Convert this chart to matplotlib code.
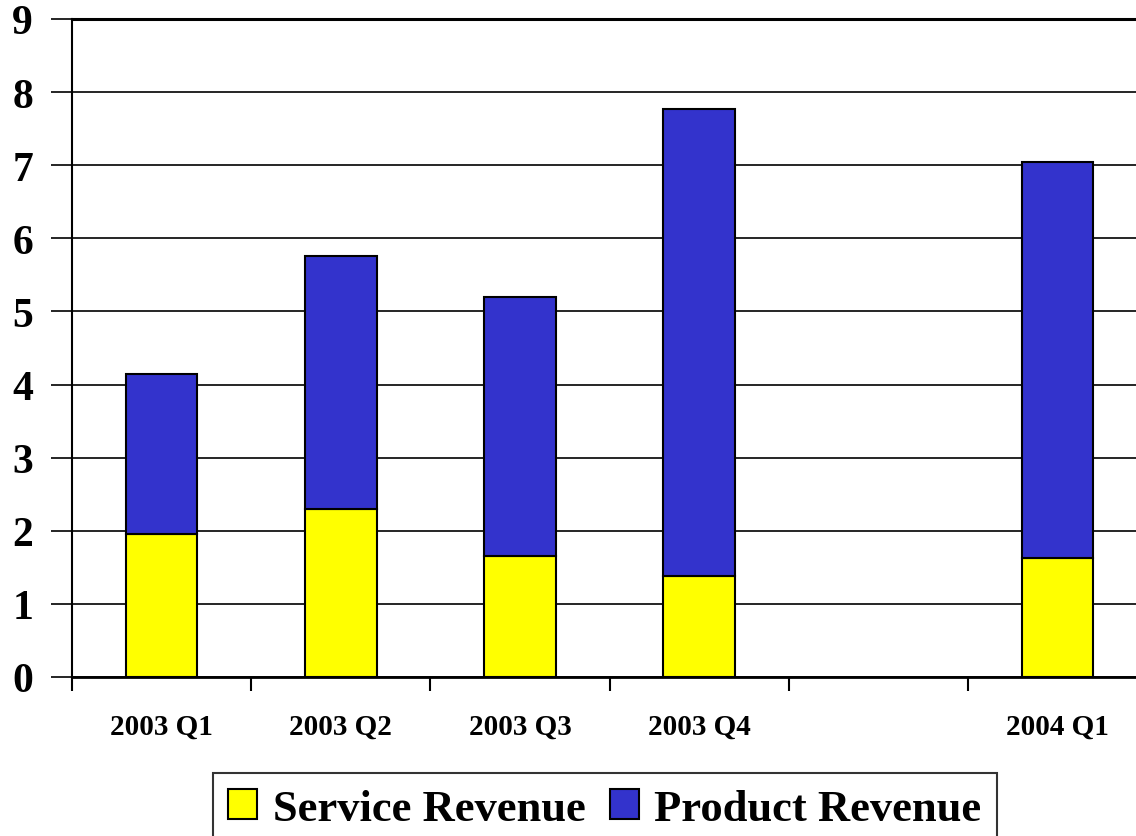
#
import matplotlib.pyplot as plt
import numpy as np
#
# quarterly revenue data
quarters = ["2003 Q1", "2003 Q2", "2003 Q3", "2003 Q4", "", "2004 Q1"]
service = [1.95, 2.30, 1.65, 1.38, np.nan, 1.63]
total = [4.15, 5.76, 5.20, 7.77, np.nan, 7.05]
product = [t - s for t, s in zip(total, service)]
yticks = [0, 1, 2, 3, 4, 5, 6, 7, 8, 9]
#
plt.rcParams['font.family'] = ['Liberation Serif', 'DejaVu Serif']
plt.rcParams['font.weight'] = 'bold'
#
fig = plt.figure(figsize=(11.36, 8.37), dpi=100)
ax = fig.add_axes([72/1136, 1-678/837, (1147-72)/1136, (678-20)/837])
#
x = np.arange(len(quarters))
ax.bar(x, service, width=0.4, color='#FFFF00', edgecolor='black', linewidth=1.5,
       label='Service Revenue', zorder=3)
ax.bar(x, product, width=0.4, bottom=service, color='#3333CC', edgecolor='black',
       linewidth=1.5, label='Product Revenue', zorder=3)
#
ax.set_xlim(-0.5, len(quarters) - 0.5)
ax.set_ylim(0, 9)
#gridlines and axes
ax.set_yticks(yticks)
ax.set_yticklabels([str(v) for v in yticks], fontsize=30, fontweight='bold')
ax.yaxis.grid(True, color='black', linewidth=1.2, zorder=0)
ax.tick_params(axis='y', length=15, width=1.2, pad=13)
#x ticks at category boundaries, labels at centers
ax.set_xticks(np.arange(len(quarters) + 1) - 0.5)
ax.set_xticklabels([])
ax.tick_params(axis='x', which='major', length=10, width=1.5)
ax.set_xticks(x, minor=True)
ax.set_xticklabels(quarters, minor=True, fontsize=21, fontweight='bold')
ax.tick_params(axis='x', which='minor', length=0, pad=26)
#
ax.spines[['right']].set_visible(False)
ax.spines['top'].set_linewidth(2.2)
ax.spines['left'].set_linewidth(1.5)
ax.spines['bottom'].set_linewidth(2)
#
leg = fig.legend(loc='upper center', bbox_to_anchor=(605/1136, 1-774/837), ncol=2,
                 frameon=True, fancybox=False, shadow=False, borderaxespad=0,
                 edgecolor='black', handlelength=0.65, handleheight=0.65,
                 handletextpad=0.35, columnspacing=0.55, borderpad=0.35,
                 prop={'weight': 'bold', 'size': 32})
leg.get_frame().set_linewidth(1.5)
#
fig.savefig('out.png', dpi=100)
